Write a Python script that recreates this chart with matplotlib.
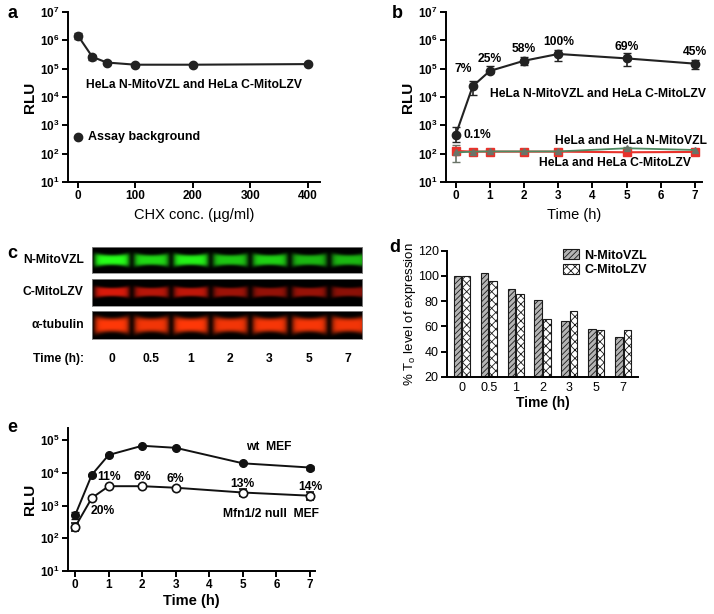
import numpy as np
import matplotlib
matplotlib.use("Agg")
import matplotlib.pyplot as plt
from matplotlib.ticker import FixedLocator, NullLocator, FuncFormatter
from matplotlib.transforms import offset_copy

plt.rcParams["font.family"] = ["Liberation Sans", "DejaVu Sans"]
plt.rcParams["mathtext.fontset"] = "custom"
plt.rcParams["mathtext.rm"] = "Liberation Sans"
plt.rcParams["mathtext.bf"] = "Liberation Sans:bold"
plt.rcParams["mathtext.it"] = "Liberation Sans:italic"
plt.rcParams["hatch.linewidth"] = 0.6

W, H = 714, 614

# ---- panel a: CHX titration
chx_conc = [0, 25, 50, 100, 200, 400]
chx_rlu = [1.45e6, 2.6e5, 1.65e5, 1.38e5, 1.38e5, 1.45e5]
chx_lo = [1.15e6, 2.1e5, 1.5e5, 1.3e5, 1.3e5, 1.35e5]
chx_hi = [1.75e6, 3.1e5, 1.8e5, 1.45e5, 1.45e5, 1.55e5]
bg_conc = 0
bg_rlu = 380

# ---- panel b: time course of complementation
time_h = [0, 0.5, 1, 2, 3, 5, 7]
fc_rlu = [450, 2.4e4, 8.3e4, 1.9e5, 3.3e5, 2.3e5, 1.5e5]
fc_lo = [250, 1.2e4, 6.8e4, 1.35e5, 1.9e5, 1.26e5, 9.5e4]
fc_hi = [850, 3.7e4, 1.2e5, 2.5e5, 4.6e5, 3.5e5, 2.0e5]
fc_pct = ["0.1%", "7%", "25%", "58%", "100%", "69%", "45%"]
ctrl_c_rlu = [125, 118, 118, 118, 118, 112, 115]
ctrl_n_rlu = [110, 118, 120, 120, 120, 155, 135]
ctrl_n_lo = [50, 110, 112, 112, 112, 140, 125]
ctrl_n_hi = [210, 126, 128, 128, 128, 170, 145]

# ---- panel c: western blot band intensities (relative)
lane_labels = ["0", "0.5", "1", "2", "3", "5", "7"]
band_n_mito = [1.0, 0.85, 0.95, 0.78, 0.82, 0.72, 0.72]
band_c_mito = [0.85, 0.72, 0.75, 0.62, 0.58, 0.6, 0.55]
band_tubulin = [1.0, 0.95, 1.0, 0.95, 0.97, 0.97, 0.95]

# ---- panel d: quantified expression
n_expr = [100, 102.5, 89.3, 81.2, 64, 58, 51.3]
c_expr = [100, 96.2, 85.6, 65.5, 72.4, 57.4, 57.4]

# ---- panel e: MEF time course
wt_rlu = [500, 8.7e3, 3.5e4, 6.7e4, 5.8e4, 1.95e4, 1.45e4]
wt_lo = [380, 8.0e3, 3.2e4, 6.2e4, 5.4e4, 1.8e4, 1.25e4]
wt_hi = [620, 9.4e3, 3.8e4, 7.2e4, 6.2e4, 2.1e4, 1.65e4]
null_rlu = [220, 1.7e3, 3.9e3, 3.9e3, 3.5e3, 2.5e3, 2.0e3]
null_lo = [170, 1.55e3, 3.6e3, 3.6e3, 3.2e3, 1.9e3, 1.5e3]
null_hi = [300, 1.85e3, 4.2e3, 4.2e3, 3.8e3, 3.2e3, 2.6e3]
null_pct = ["", "20%", "11%", "6%", "6%", "13%", "14%"]

LW = 1.4
TICK_FS = 8.5


def rect(l, t, r, b):
    return [l / W, 1 - b / H, (r - l) / W, (b - t) / H]


def prism(ax):
    for s in ["top", "right"]:
        ax.spines[s].set_visible(False)
    for s in ["left", "bottom"]:
        ax.spines[s].set_linewidth(LW)
    ax.tick_params(direction="out", length=4, width=LW, labelsize=TICK_FS, pad=2)
    for lab in ax.get_xticklabels() + ax.get_yticklabels():
        lab.set_fontweight("bold")


def log_yaxis(ax, lo, hi, top):
    ax.set_yscale("log")
    ax.set_ylim(10, top)
    ax.yaxis.set_major_locator(FixedLocator([10.0 ** k for k in range(lo, hi + 1)]))
    ax.yaxis.set_minor_locator(NullLocator())
    ax.yaxis.set_major_formatter(
        FuncFormatter(lambda v, p: r"$\mathbf{10^{%d}}$" % round(np.log10(v))))


def errs(y, lo, hi):
    y = np.array(y); return [y - np.array(lo), np.array(hi) - y]


fig = plt.figure(figsize=(W / 100, H / 100), dpi=100)

# ---------------- a
ax = fig.add_axes(rect(68, 12, 320, 182))
log_yaxis(ax, 1, 7, 1e7)
ax.errorbar(chx_conc, chx_rlu, yerr=errs(chx_rlu, chx_lo, chx_hi), color="#222222",
            marker="o", ms=6, lw=1.5, capsize=3, elinewidth=1.2)
ax.plot([bg_conc], [bg_rlu], "o", color="#222222", ms=6)
ax.text(17, bg_rlu, "Assay background", fontsize=9, fontweight="bold", va="center")
ax.text(14, 2.6e4, "HeLa N-MitoVZL and HeLa C-MitoLZV", fontsize=8.7,
        fontweight="bold", va="center")
ax.set_xlim(-17.4, 421)
ax.set_xticks([0, 100, 200, 300, 400])
ax.set_ylabel("RLU", fontsize=11, fontweight="bold", labelpad=2)
ax.set_xlabel("CHX conc. (\u00b5g/ml)", fontsize=10.5, labelpad=4)
prism(ax)

# ---------------- b
ax = fig.add_axes(rect(446, 12, 702, 182))
log_yaxis(ax, 1, 7, 1e7)
ax.errorbar(time_h, ctrl_c_rlu, color="#e8322b", marker="s", ms=6, lw=1.5)
ax.errorbar(time_h, ctrl_n_rlu, yerr=errs(ctrl_n_rlu, ctrl_n_lo, ctrl_n_hi),
            color="#4f8a62", mfc="#6a7468", mec="#6a7468", marker="^", ms=5, lw=1.3,
            capsize=3, ecolor="#6a7468", elinewidth=1.2)
ax.errorbar(time_h, fc_rlu, yerr=errs(fc_rlu, fc_lo, fc_hi), color="#222222",
            marker="o", ms=6, lw=1.5, capsize=3, elinewidth=1.2)
for i, (t, v, s) in enumerate(zip(time_h, fc_rlu, fc_pct)):
    if i == 0:
        ax.annotate(s, (t, v), xytext=(6, 0), textcoords="offset points",
                    fontsize=8.7, fontweight="bold", va="center")
    elif i == 1:
        ax.annotate(s, (t, v), xytext=(-7, 8), textcoords="offset points",
                    fontsize=8.7, fontweight="bold", ha="center", va="bottom")
    else:
        ax.annotate(s, (t, v), xytext=(0, 4), textcoords="offset points",
                    fontsize=8.7, fontweight="bold", ha="center", va="bottom")
ax.text(1.0, 1.3e4, "HeLa N-MitoVZL and HeLa C-MitoLZV", fontsize=8.7,
        fontweight="bold", va="center")
ax.text(2.9, 280, "HeLa and HeLa N-MitoVZL", fontsize=8.7, fontweight="bold", va="center")
ax.text(2.45, 48, "HeLa and HeLa C-MitoLZV", fontsize=8.7, fontweight="bold", va="center")
ax.set_xlim(-0.28, 7.2)
ax.set_xticks(range(8))
ax.set_ylabel("RLU", fontsize=11, fontweight="bold", labelpad=2)
ax.set_xlabel("Time (h)", fontsize=10.5, labelpad=4)
prism(ax)

# ---------------- c  (blot)
xg = np.linspace(-0.5, 6.35, 600)
yg = np.linspace(0, 1, 60)
X, Y = np.meshgrid(xg, yg)


def blot_image(levels, rgb, thick):
    img = np.zeros(X.shape)
    for i, lev in enumerate(levels):
        u = (X - i) / 0.44
        px = np.exp(-u ** 8)
        hh = thick * (1 + 0.35 * u ** 2)
        py = np.exp(-((Y - 0.5) / hh) ** 4)
        img += lev * px * py
    img = np.clip(img, 0, 1)
    return np.dstack([img * c for c in rgb])


blot_rows = [
    ("N-MitoVZL", band_n_mito, (0.15, 1.0, 0.1), 0.2, (246.7, 272.7)),
    ("C-MitoLZV", band_c_mito, (1.0, 0.12, 0.05), 0.16, (278.5, 306)),
    ("\u03b1-tubulin", band_tubulin, (1.0, 0.22, 0.03), 0.25, (311, 339)),
]
for name, lev, col, thick, (t, b) in blot_rows:
    bx = fig.add_axes(rect(91.7, t, 362, b))
    bx.imshow(blot_image(lev, col, thick), extent=(-0.5, 6.35, 0, 1),
              aspect="auto", origin="lower", interpolation="bilinear")
    bx.set_xlim(-0.5, 6.35); bx.set_ylim(0, 1)
    bx.set_xticks([]); bx.set_yticks([])
    for s in bx.spines.values():
        s.set_color("#888888"); s.set_linewidth(0.6)
    lab_tr = offset_copy(bx.transAxes, fig=fig, x=-8, y=0, units="dots")
    bx.text(0, 0.5, name, transform=lab_tr, ha="right", va="center",
            fontsize=8.7, fontweight="bold")
for i, lab in enumerate(lane_labels):
    bx.text(i, -0.72, lab, ha="center", va="center", fontsize=8.7, fontweight="bold")
bx.text(0, -0.72, "Time (h):", transform=lab_tr, ha="right", va="center",
        fontsize=8.7, fontweight="bold")

# ---------------- d
ax = fig.add_axes(rect(447, 250.7, 638, 376.7))
xi = np.arange(len(lane_labels))
ax.bar(xi - 0.16, np.array(n_expr) - 20, bottom=20, width=0.28, facecolor="#b4b4b4",
       edgecolor="#1a1a1a", hatch="//////", lw=0.8, label="N-MitoVZL")
ax.bar(xi + 0.16, np.array(c_expr) - 20, bottom=20, width=0.28, facecolor="white",
       edgecolor="#1a1a1a", hatch="xxxx", lw=0.8, label="C-MitoLZV")
ax.set_xlim(-0.55, 6.55)
ax.set_ylim(20, 120)
ax.set_yticks([20, 40, 60, 80, 100, 120])
ax.set_xticks(xi)
ax.set_xticklabels(lane_labels)
prism(ax)
ax.tick_params(axis="x", length=0, pad=4)
for lab in ax.get_xticklabels() + ax.get_yticklabels():
    lab.set_fontweight("normal"); lab.set_fontsize(9)
ax.set_ylabel(r"% T$_{\rm o}$ level of expression", fontsize=9.5, labelpad=0)
ax.set_xlabel("Time (h)", fontsize=10, fontweight="bold", labelpad=1)
ax.legend(loc="upper left", bbox_to_anchor=(0.58, 1.05), frameon=False,
          prop={"size": 9, "weight": "bold"}, handlelength=1.3, handleheight=0.8,
          handletextpad=0.4, labelspacing=0.2, borderaxespad=0)

# ---------------- e
ax = fig.add_axes(rect(68, 428.3, 315, 571))
log_yaxis(ax, 1, 5, 10 ** 5.36)
ax.errorbar(time_h, wt_rlu, yerr=errs(wt_rlu, wt_lo, wt_hi), color="#111111",
            marker="o", ms=5.5, lw=1.4, capsize=3, elinewidth=1.2)
ax.errorbar(time_h, null_rlu, yerr=errs(null_rlu, null_lo, null_hi), color="#111111",
            marker="o", mfc="white", ms=6, mew=1.2, lw=1.4, capsize=3, elinewidth=1.2)
for i, (t, v, s) in enumerate(zip(time_h, null_rlu, null_pct)):
    if not s:
        continue
    if i == 1:
        ax.annotate(s, (t, v), xytext=(-1, -5), textcoords="offset points",
                    fontsize=8.7, fontweight="bold", ha="left", va="top")
    else:
        ax.annotate(s, (t, v), xytext=(0, 2), textcoords="offset points",
                    fontsize=8.7, fontweight="bold", ha="center", va="bottom")
ax.text(5.76, 6.0e4, "wt  MEF", fontsize=8.7, fontweight="bold", ha="center", va="center")
ax.text(4.4, 540, "Mfn1/2 null  MEF", fontsize=8.7, fontweight="bold", ha="left",
        va="center")
ax.set_xlim(-0.21, 7.15)
ax.set_xticks(range(8))
ax.set_ylabel("RLU", fontsize=11, fontweight="bold", labelpad=2)
ax.set_xlabel("Time (h)", fontsize=10.5, fontweight="bold", labelpad=2)
prism(ax)

# panel letters
for letter, x, y in [("a", 13, 13), ("b", 397, 13), ("c", 12, 254),
                     ("d", 395, 247), ("e", 12, 428)]:
    fig.text(x / W, 1 - y / H, letter, fontsize=13, fontweight="bold",
             ha="center", va="center")

fig.savefig("out.png", dpi=100)
